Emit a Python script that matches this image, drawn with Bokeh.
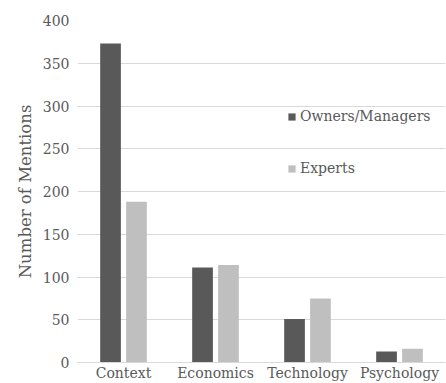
from bokeh.plotting import figure
from bokeh.models import ColumnDataSource, FactorRange, FixedTicker, Legend, LegendItem
from bokeh.transform import dodge
from bokeh.embed import file_html
from bokeh.resources import INLINE

categories = ["Context", "Economics", "Technology", "Psychology"]
owners = [373, 111, 51, 13]
experts = [188, 114, 75, 16]
y_ticks = [0, 50, 100, 150, 200, 250, 300, 350, 400]

FONT = "DejaVu Serif"
TXT = "#595959"

src = ColumnDataSource(dict(cat=categories, owners=owners, experts=experts))

p = figure(x_range=FactorRange(*categories, range_padding=0), y_range=(0, 400),
           width=446, height=383, output_backend="svg", toolbar_location=None,
           min_border_left=77, min_border_right=1, min_border_top=20, min_border_bottom=21)
p.outline_line_color = None

r1 = p.vbar(x=dodge("cat", -0.141, range=p.x_range), top="owners", width=0.225,
            source=src, fill_color="#595959", line_color=None)
r2 = p.vbar(x=dodge("cat", 0.141, range=p.x_range), top="experts", width=0.225,
            source=src, fill_color="#BFBFBF", line_color=None)

p.yaxis.ticker = FixedTicker(ticks=y_ticks)
p.yaxis.axis_line_color = None
p.yaxis.major_label_standoff = 8
p.yaxis.axis_label = "Number of Mentions"
p.yaxis.axis_label_standoff = 5
p.yaxis.axis_label_text_font = FONT
p.yaxis.axis_label_text_font_style = "normal"
p.yaxis.axis_label_text_font_size = "16.5px"
p.yaxis.axis_label_text_color = TXT

p.xaxis.axis_line_color = "#D9D9D9"
p.xaxis.major_label_standoff = 2

for ax in (p.xaxis, p.yaxis):
    ax.major_tick_line_color = None
    ax.minor_tick_line_color = None
    ax.major_tick_out = 0
    ax.major_tick_in = 0
    ax.minor_tick_out = 0
    ax.minor_tick_in = 0
    ax.major_label_text_font = FONT
    ax.major_label_text_font_size = "14px"
    ax.major_label_text_color = TXT

p.xgrid.grid_line_color = None
p.ygrid.grid_line_color = "#D9D9D9"
p.ygrid.grid_line_width = 1

legend = Legend(items=[LegendItem(label="Owners/Managers", renderers=[r1]),
                       LegendItem(label="Experts", renderers=[r2])],
                location=(210, 185), orientation="vertical",
                glyph_width=9, glyph_height=9, label_height=18, label_standoff=4,
                spacing=34, padding=0, margin=0,
                background_fill_alpha=0, border_line_color=None,
                label_text_font=FONT, label_text_font_size="14px", label_text_color=TXT)
p.add_layout(legend, "center")

open("out.html", "w").write(file_html(p, INLINE))
